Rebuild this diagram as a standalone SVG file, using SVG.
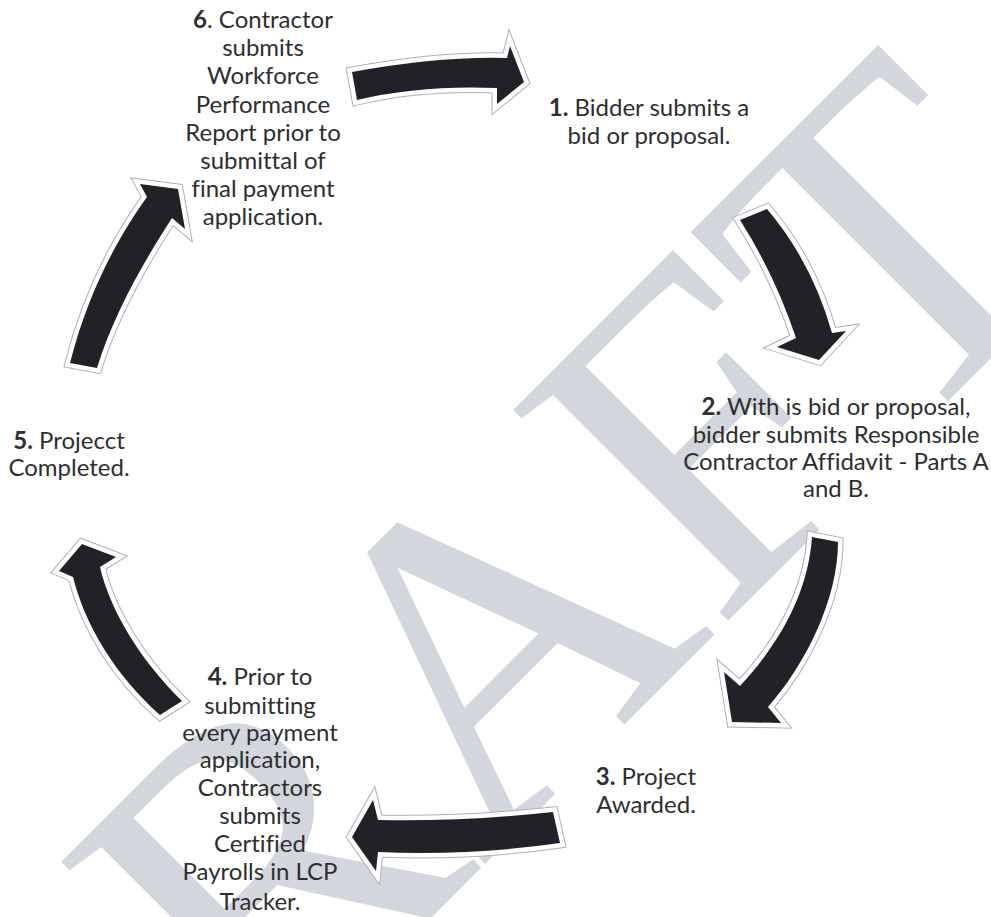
<svg xmlns="http://www.w3.org/2000/svg" xmlns:xlink="http://www.w3.org/1999/xlink" width="991" height="917" viewBox="0 0 991 917">
  <style>
    .wm { font-family: "Liberation Serif", "Times New Roman", serif; font-size: 460px; fill: #d3d6dc; }
    .lbl { font-family: Lato, "Open Sans", "Liberation Sans", sans-serif; font-size: 24px; fill: #2e2e2e; text-anchor: middle; font-variant-ligatures: none; font-feature-settings: "liga" 0; }
    .lbl tspan.n { font-weight: bold; }
    .halo { fill: none; stroke: #b0b0b0; stroke-width: 11; stroke-linejoin: miter; stroke-miterlimit: 6; }
    .halo2 { fill: none; stroke: #ffffff; stroke-width: 9; stroke-linejoin: miter; stroke-miterlimit: 6; }
    .body { fill: #202227; stroke: none; }
  </style>
  <defs>
    <path id="p1" d="M352,72 Q440,56 507,58 L510,46 L524,82 L497,104 L497,88 Q420,85 357,100 Z"/>
    <path id="p2" d="M740,220 L767,209 Q812,262 832,333 L846,331 L819,360 L777,347 L796,338 Q775,275 740,220 Z"/>
    <path id="p3" d="M812,537 L838,542 C838,600 805,665 768,707 L781,723 L732,722 L724,672 L740,686 C778,645 808,595 812,537 Z"/>
    <path id="p4" d="M553,812 Q460,822 378,820 L373,800 L352,837 L376,871 L378,852 Q470,856 560,843 Z"/>
    <path id="p5" d="M160,715 L182,701 C140,660 110,610 100,567 L116,557 L82,544 L59,571 L73,577 C85,625 115,675 160,715 Z"/>
    <path id="p6" d="M70,363 C90,285 122,232 147,197 L140,184 L178,189 L185,229 L172,218 C148,255 115,310 97,368 Z"/>
  </defs>
  <rect width="991" height="917" fill="#ffffff"/>
  <g id="watermark">
    <text class="wm" transform="translate(482,867) rotate(-45)" x="-639 -307 0 332 588" y="0">DRAFT</text>
  </g>
  <g id="connectors">
    <g id="arrow-6-1"><use xlink:href="#p1" class="halo"/><use xlink:href="#p1" class="halo2"/><use xlink:href="#p1" class="body"/></g>
    <g id="arrow-1-2"><use xlink:href="#p2" class="halo"/><use xlink:href="#p2" class="halo2"/><use xlink:href="#p2" class="body"/></g>
    <g id="arrow-2-3"><use xlink:href="#p3" class="halo"/><use xlink:href="#p3" class="halo2"/><use xlink:href="#p3" class="body"/></g>
    <g id="arrow-3-4"><use xlink:href="#p4" class="halo"/><use xlink:href="#p4" class="halo2"/><use xlink:href="#p4" class="body"/></g>
    <g id="arrow-4-5"><use xlink:href="#p5" class="halo"/><use xlink:href="#p5" class="halo2"/><use xlink:href="#p5" class="body"/></g>
    <g id="arrow-5-6"><use xlink:href="#p6" class="halo"/><use xlink:href="#p6" class="halo2"/><use xlink:href="#p6" class="body"/></g>
  </g>
  <g id="step1">
    <text class="lbl" x="649" y="116"><tspan class="n">1.</tspan> Bidder submits a</text>
    <text class="lbl" x="649" y="144">bid or proposal.</text>
  </g>
  <g id="step2">
    <text class="lbl" x="836" y="415"><tspan class="n">2.</tspan> With is bid or proposal,</text>
    <text class="lbl" x="836" y="443">bidder submits Responsible</text>
    <text class="lbl" x="836" y="470">Contractor Affidavit - Parts A</text>
    <text class="lbl" x="836" y="497">and B.</text>
  </g>
  <g id="step3">
    <text class="lbl" x="646" y="785"><tspan class="n">3.</tspan> Project</text>
    <text class="lbl" x="646" y="813">Awarded.</text>
  </g>
  <g id="step4">
    <text class="lbl" x="260" y="685"><tspan class="n">4.</tspan> Prior to</text>
    <text class="lbl" x="260" y="714">submitting</text>
    <text class="lbl" x="260" y="741">every payment</text>
    <text class="lbl" x="260" y="768">application,</text>
    <text class="lbl" x="260" y="796">Contractors</text>
    <text class="lbl" x="260" y="824">submits</text>
    <text class="lbl" x="260" y="852">Certified</text>
    <text class="lbl" x="260" y="880">Payrolls in LCP</text>
    <text class="lbl" x="260" y="910">Tracker.</text>
  </g>
  <g id="step5">
    <text class="lbl" x="69" y="449"><tspan class="n">5.</tspan> Projecct</text>
    <text class="lbl" x="69" y="476">Completed.</text>
  </g>
  <g id="step6">
    <text class="lbl" x="263" y="28"><tspan class="n">6</tspan>. Contractor</text>
    <text class="lbl" x="263" y="56">submits</text>
    <text class="lbl" x="263" y="84">Workforce</text>
    <text class="lbl" x="263" y="113">Performance</text>
    <text class="lbl" x="263" y="141">Report prior to</text>
    <text class="lbl" x="263" y="169">submittal of</text>
    <text class="lbl" x="263" y="197">final payment</text>
    <text class="lbl" x="263" y="225">application.</text>
  </g>
</svg>
